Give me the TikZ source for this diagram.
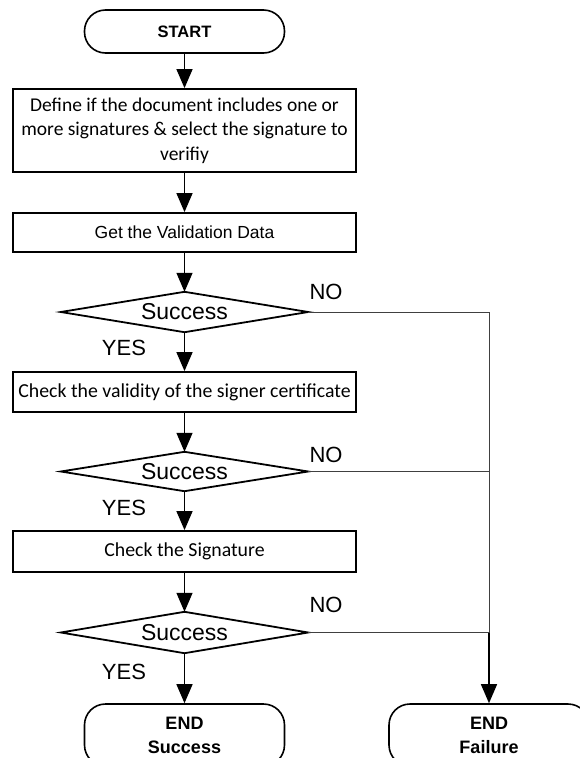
\documentclass[tikz,border=0pt]{standalone}
\usepackage{fontspec}
\setmainfont{Liberation Sans}
\newfontfamily\arialf{Liberation Sans}
\newfontfamily\calf{Carlito}
\usetikzlibrary{arrows.meta}
\begin{document}
\begin{tikzpicture}[x=1pt,y=-1pt,
  box/.style={draw,line width=1.8pt,minimum width=343pt,inner sep=0pt,align=center},
  term/.style={draw,line width=1.6pt,rounded corners=21pt,minimum width=200pt,inner sep=0pt,align=center},
  dec/.style={shape=rectangle,minimum width=247pt,minimum height=40pt,inner sep=0pt,
    font=\arialf\fontsize{23}{27}\selectfont},
  decline/.style={line width=1.8pt,line join=miter},
  conn/.style={line width=1.4pt,-{Triangle[length=19pt,width=16pt]}},
  noline/.style={line width=0.9pt,draw=black!75},
  lbl/.style={font=\arialf\fontsize{22}{26}\selectfont,inner sep=0pt}]
\useasboundingbox (0,0) rectangle (579,758);
\node[term,minimum height=43pt,font=\arialf\bfseries\fontsize{16.5}{20}\selectfont] (start) at (184.5,31.5) {START};
\node[box,minimum height=83pt,font=\calf\fontsize{19.5}{24.5}\selectfont] (b1) at (184.5,130.5)
  {Define if the document includes one or\\more signatures \& select the signature to\\verifiy};
\node[box,minimum height=39pt,font=\arialf\fontsize{17.5}{21}\selectfont] (b2) at (184.5,232.5) {Get the Validation Data};
\node[dec] (d1) at (184.5,312) {Success};
\node[box,minimum height=40pt,font=\calf\fontsize{19.8}{24}\selectfont] (b3) at (184.5,392) {Check the validity of the signer certificate};
\node[dec,minimum height=39pt] (d2) at (184.5,471.5) {Success};
\node[box,minimum height=41pt,font=\calf\fontsize{19.8}{24}\selectfont] (b4) at (184.5,551.5) {Check the Signature};
\node[dec,minimum height=41pt] (d3) at (184.5,632.5) {Success};
\foreach \d in {d1,d2,d3}
  \draw[decline] (\d.west) -- (\d.north) -- (\d.east) -- (\d.south) -- cycle;
\node[term,minimum height=62pt,font=\arialf\bfseries\fontsize{18}{24}\selectfont] (es) at (184.5,735) {END\\Success};
\node[term,minimum height=62pt,font=\arialf\bfseries\fontsize{18}{24}\selectfont] (ef) at (489,735) {END\\Failure};
\node[lbl] (no1) at (326,292) {NO};
\node[lbl] (no2) at (326,455) {NO};
\node[lbl] (no3) at (326,605) {NO};
\node[lbl] (yes1) at (124,348) {YES};
\node[lbl] (yes2) at (124,508) {YES};
\node[lbl] (yes3) at (124,672) {YES};
\coordinate (j1) at (d1.east -| ef.north);
\coordinate (j2) at (d2.east -| ef.north);
\coordinate (j3) at (d3.east -| ef.north);
\draw[conn] (start) -- (b1);
\draw[conn] (b1) -- (b2);
\draw[conn] (b2) -- (d1.north);
\draw[conn] (d1.south) -- (b3);
\draw[conn] (b3) -- (d2.north);
\draw[conn] (d2.south) -- (b4);
\draw[conn] (b4) -- (d3.north);
\draw[conn] (d3.south) -- (es);
\draw[noline] (d1.east) -- (j1);
\draw[noline] (d2.east) -- (j2);
\draw[noline] (d3.east) -- (j3);
\draw[noline] (j1) -- (j3);
\draw[conn] (j3) -- (ef);
\end{tikzpicture}
\end{document}
